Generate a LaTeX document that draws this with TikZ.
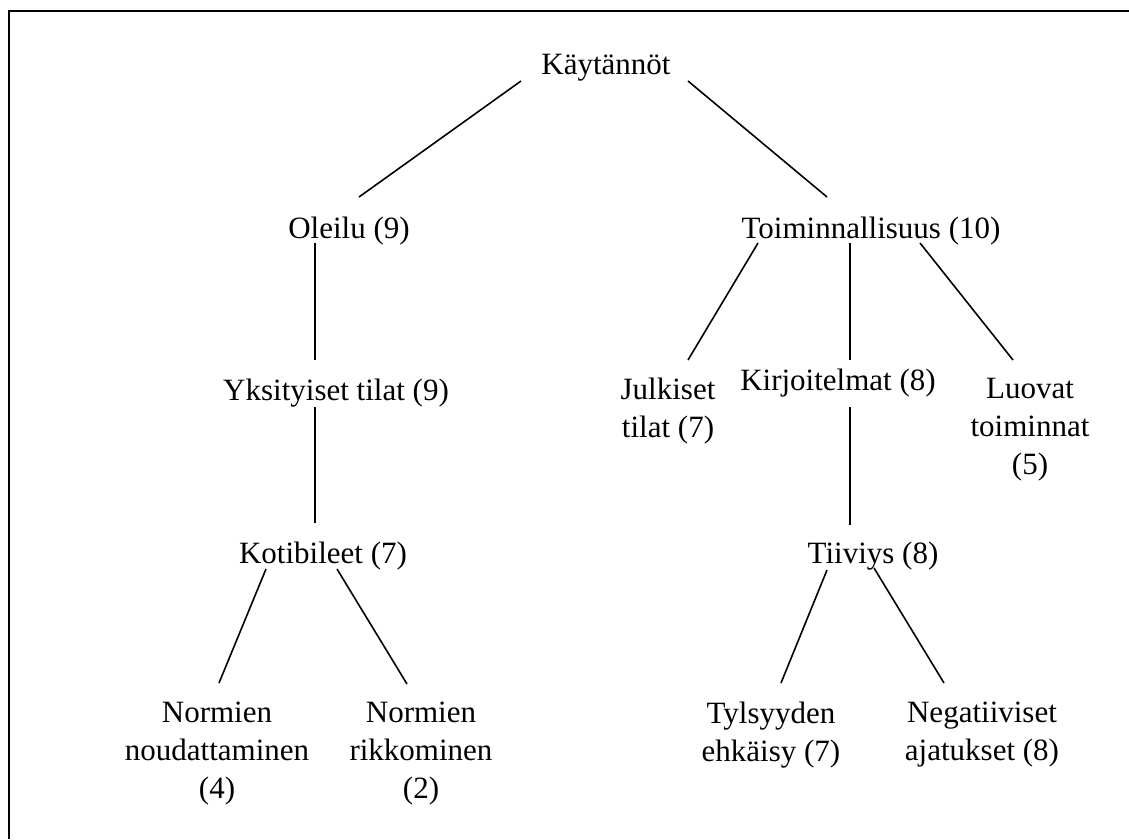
\documentclass[tikz,border=0pt]{standalone}
\usepackage{fontspec}
\setmainfont{Liberation Serif}
\begin{document}
\begin{tikzpicture}[x=1pt,y=-1pt,
  lbl/.style={inner sep=0pt,anchor=base,font=\fontsize{31}{38}\selectfont},
  mlbl/.style={inner sep=0pt,anchor=north,align=center,font=\fontsize{31}{38}\selectfont},
  edge/.style={line width=1.6pt,black},
  frame/.style={line width=2pt,black}]
\useasboundingbox (0,0) rectangle (1129,839);
\draw[frame] (9,839) -- (9,11) -- (1129,11);

\node[lbl] (kay) at (606,74) {Käytännöt};
\node[lbl] (ole) at (349,238) {Oleilu (9)};
\node[lbl] (toi) at (871,238) {Toiminnallisuus (10)};
\node[lbl] (yks) at (336,400) {Yksityiset tilat (9)};
\node[lbl] (kir) at (838,390) {Kirjoitelmat (8)};
\node[mlbl] (jul) at (668,378) {Julkiset\\tilat (7)};
\node[mlbl] (luo) at (1030,378) {Luovat\\toiminnat\\(5)};
\node[lbl] (kot) at (323,563) {Kotibileet (7)};
\node[lbl] (tii) at (873,563) {Tiiviys (8)};
\node[mlbl] (nno) at (217,702) {Normien\\noudattaminen\\(4)};
\node[mlbl] (nri) at (421,702) {Normien\\rikkominen\\(2)};
\node[mlbl] (tyl) at (771,702) {Tylsyyden\\ehkäisy (7)};
\node[mlbl] (neg) at (982,702) {Negatiiviset\\ajatukset (8)};

\draw[edge] ([shift={(-85,7)}]kay.base) -- ([shift={(10,-41)}]ole.base);
\draw[edge] ([shift={(82,7)}]kay.base) -- ([shift={(-44,-41)}]toi.base);
\draw[edge] ([shift={(-34,5)}]ole.base) -- ([shift={(-21,-40)}]yks.base);
\draw[edge] ([shift={(-21,7)}]yks.base) -- ([shift={(-8,-40)}]kot.base);
\draw[edge] ([shift={(-113,5)}]toi.base) -- ([shift={(20,-18)}]jul.north);
\draw[edge] ([shift={(-21,5)}]toi.base) -- ([shift={(12,-30)}]kir.base);
\draw[edge] ([shift={(49,5)}]toi.base) -- ([shift={(-17,-18)}]luo.north);
\draw[edge] ([shift={(12,17)}]kir.base) -- ([shift={(-23,-38)}]tii.base);
\draw[edge] ([shift={(-57,6)}]kot.base) -- ([shift={(2,-19)}]nno.north);
\draw[edge] ([shift={(14,6)}]kot.base) -- ([shift={(-14,-18)}]nri.north);
\draw[edge] ([shift={(-46,7)}]tii.base) -- ([shift={(10,-19)}]tyl.north);
\draw[edge] ([shift={(1,5)}]tii.base) -- ([shift={(-38,-19)}]neg.north);
\end{tikzpicture}
\end{document}
